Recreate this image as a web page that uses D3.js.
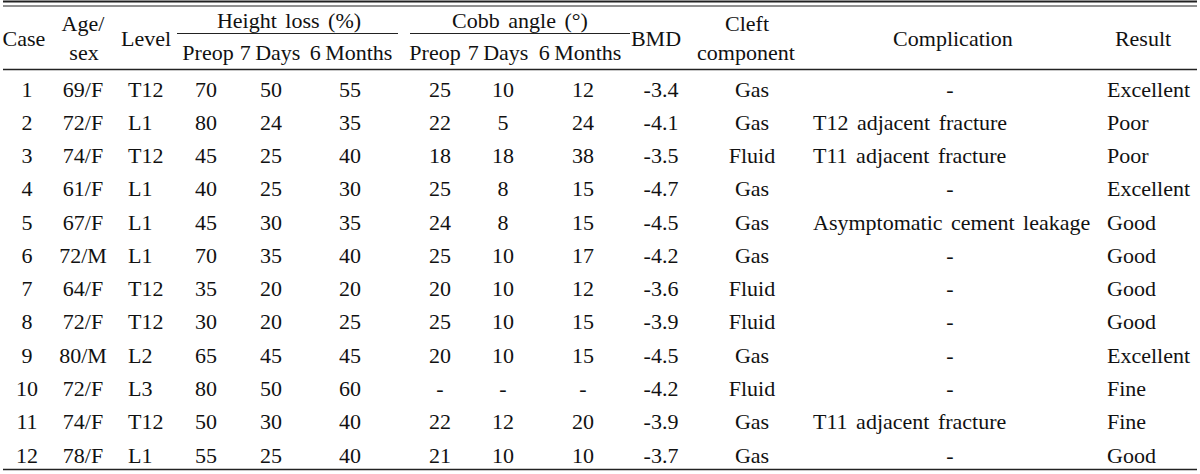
<!DOCTYPE html>
<html>
<head>
<meta charset="utf-8">
<script src="https://cdn.jsdelivr.net/npm/d3@7"></script>
<style>
  html, body { margin: 0; padding: 0; background: #fff; }
  svg { display: block; }
  text { font-family: "Liberation Serif", "DejaVu Serif", serif; fill: #111; }
</style>
</head>
<body>
<svg id="chart" width="1200" height="474"></svg>
<script>
// ---- data ----
const cases = [1, 2, 3, 4, 5, 6, 7, 8, 9, 10, 11, 12];
const ageSex = ["69/F", "72/F", "74/F", "61/F", "67/F", "72/M", "64/F", "72/F", "80/M", "72/F", "74/F", "78/F"];
const levels = ["T12", "L1", "T12", "L1", "L1", "L1", "T12", "T12", "L2", "L3", "T12", "L1"];
const heightPreop = [70, 80, 45, 40, 45, 70, 35, 30, 65, 80, 50, 55];
const height7Days = [50, 24, 25, 25, 30, 35, 20, 20, 45, 50, 30, 25];
const height6Months = [55, 35, 40, 30, 35, 40, 20, 25, 45, 60, 40, 40];
const cobbPreop = [25, 22, 18, 25, 24, 25, 20, 25, 20, null, 22, 21];
const cobb7Days = [10, 5, 18, 8, 8, 10, 10, 10, 10, null, 12, 10];
const cobb6Months = [12, 24, 38, 15, 15, 17, 12, 15, 15, null, 20, 10];
const bmd = [-3.4, -4.1, -3.5, -4.7, -4.5, -4.2, -3.6, -3.9, -4.5, -4.2, -3.9, -3.7];
const cleft = ["Gas", "Gas", "Fluid", "Gas", "Gas", "Gas", "Fluid", "Fluid", "Gas", "Fluid", "Gas", "Gas"];
const complication = ["-", "T12 adjacent fracture", "T11 adjacent fracture", "-", "Asymptomatic cement leakage", "-", "-", "-", "-", "-", "T11 adjacent fracture", "-"];
const result = ["Excellent", "Poor", "Poor", "Excellent", "Good", "Good", "Good", "Good", "Excellent", "Fine", "Fine", "Good"];

const groupHeaders = ["Height loss (%)", "Cobb angle (°)"];
const subHeaders = ["Preop", "7 Days", "6 Months"];

// ---- layout ----
const svg = d3.select("#chart");
const FS = 22;
const fmt = v => (v === null ? "-" : String(v));
const fmtBmd = v => v.toFixed(1);

const columns = [
  { key: "case", values: cases.map(String), x: 27, anchor: "middle" },
  { key: "age", values: ageSex, x: 83, anchor: "middle" },
  { key: "level", values: levels, x: 128, anchor: "start" },
  { key: "hp", values: heightPreop.map(fmt), x: 206, anchor: "middle" },
  { key: "h7", values: height7Days.map(fmt), x: 271, anchor: "middle" },
  { key: "h6", values: height6Months.map(fmt), x: 350, anchor: "middle" },
  { key: "cp", values: cobbPreop.map(fmt), x: 440, anchor: "middle" },
  { key: "c7", values: cobb7Days.map(fmt), x: 503, anchor: "middle" },
  { key: "c6", values: cobb6Months.map(fmt), x: 583, anchor: "middle" },
  { key: "bmd", values: bmd.map(fmtBmd), x: 661, anchor: "middle" },
  { key: "cleft", values: cleft, x: 752, anchor: "middle" },
  { key: "comp", values: complication, x: 813, xc: 950, anchor: "start" },
  { key: "res", values: result, x: 1107, anchor: "start" }
];

const y = d3.scalePoint().domain(cases).range([89, 455]);

const left = 3, right = 1197;

// rules
function hline(x1, x2, yy, w) {
  svg.append("line").attr("x1", x1).attr("x2", x2).attr("y1", yy).attr("y2", yy)
    .attr("stroke", "#222").attr("stroke-width", w);
}
hline(left, right, 1.5, 2);
hline(left, right, 6, 1);
hline(left, right, 69.5, 1.3);
hline(left, right, 469.5, 1.3);
hline(177, 398, 33.5, 1);
hline(410, 630, 33.5, 1);

function txt(s, x, yy, anchor, ws) {
  return svg.append("text").attr("x", x).attr("y", yy)
    .attr("text-anchor", anchor || "middle")
    .attr("dominant-baseline", "central")
    .attr("font-size", FS)
    .attr("word-spacing", ws === undefined ? 3 : ws)
    .text(s);
}

// headers
txt("Case", 24, 38);
txt("Age/", 83, 23);
txt("sex", 84, 52);
txt("Level", 146, 38);
txt(groupHeaders[0], 289, 20);
txt(groupHeaders[1], 520, 20);
[[208, 270, 351], [435, 498, 580]].forEach(xs => {
  xs.forEach((xx, i) => txt(subHeaders[i], xx, 52, "middle", -1));
});
txt("BMD", 656, 38);
txt("Cleft", 747, 23);
txt("component", 746, 52);
txt("Complication", 953, 38);
txt("Result", 1143, 38);

// body
columns.forEach(col => {
  svg.append("g").selectAll("text")
    .data(col.values.map((v, i) => ({ v, c: cases[i] })))
    .join("text")
    .attr("x", d => (col.key === "comp" && d.v === "-") ? col.xc : col.x)
    .attr("y", d => y(d.c))
    .attr("text-anchor", d => (col.key === "comp" && d.v === "-") ? "middle" : col.anchor)
    .attr("dominant-baseline", "central")
    .attr("font-size", FS)
    .attr("word-spacing", 3)
    .text(d => d.v);
});
</script>
</body>
</html>
